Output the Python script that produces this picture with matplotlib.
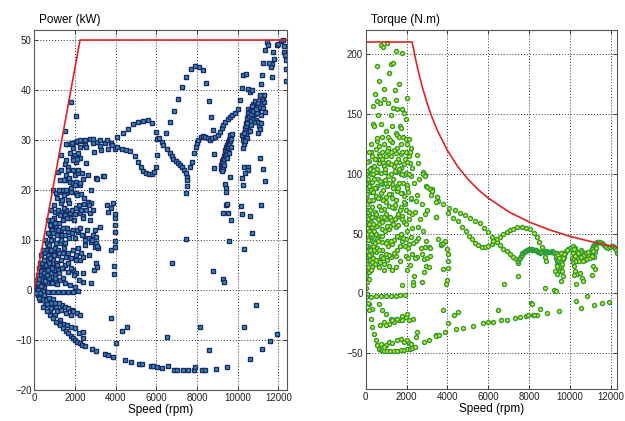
import numpy as np
import matplotlib.pyplot as plt

plt.rcParams['font.family'] = ['Liberation Sans', 'DejaVu Sans']

# ---------------- left panel: power (rpm, kW) ----------------
pw_limit_rpm = [0, 2250, 12440]
pw_limit_kw = [0, 50, 50]

pw_fan = [(1657, 29.3), (1870, 29.4), (2067, 29.7), (2313, 29.9), (2477, 29.1), (2886, 29.4),
          (3099, 29.7), (3214, 28.9), (3460, 29.5), (3788, 29.5), (1903, 28.4), (2231, 28.6),
          (2559, 28.7), (2935, 27.7), (3296, 28.1), (3624, 28.2), (3966, 28.3), (1329, 27.1),
          (1739, 27.5), (1985, 27.1), (2149, 27.4), (2231, 26.4), (2559, 25.5), (2034, 25.7),
          (1903, 26.4), (2116, 26.2), (1493, 25.3), (1657, 24.7), (1903, 24.1), (1165, 23.7),
          (1575, 23.1), (1985, 23.1), (2149, 23.4), (2395, 22.2), (3050, 22.4), (3378, 22.9),
          (1493, 22.1), (1739, 21.7), (1903, 21.4), (2067, 21.7), (2231, 21.1), (919, 20.0),
          (1083, 19.4), (1247, 19.7), (1411, 20.1), (1575, 19.4), (1821, 19.7), (2067, 19.4),
          (2313, 19.3), (2427, 17.3), (2641, 17.7), (2804, 17.4), (837, 16.1), (1001, 15.7),
          (1165, 15.4), (1329, 15.7), (1493, 15.1), (1739, 15.4), (1985, 15.3), (2231, 15.5),
          (2395, 14.9), (2723, 15.4), (673, 14.0), (837, 12.4), (1083, 12.7), (1329, 12.1),
          (1493, 12.4), (1657, 11.7), (1903, 12.1), (2149, 11.7), (2395, 11.0), (2641, 10.4),
          (2804, 9.7), (2886, 11.0), (3050, 10.7), (2477, 10.0), (2968, 8.7), (3132, 8.4),
          (592, 8.0), (755, 7.4), (919, 8.0), (1165, 7.0), (1411, 7.4), (1575, 6.7), (1821, 6.4),
          (2067, 7.0), (2231, 6.0), (2395, 6.6), (428, 4.7), (673, 4.4), (919, 4.7), (1165, 4.0),
          (1411, 4.4), (1657, 3.7), (1903, 4.0), (2067, 3.4), (2804, 1.4), (2395, 1.7), (264, 2.0),
          (510, 2.4), (755, 2.0), (1001, 1.7), (1247, 2.0), (1493, 1.4), (1739, 1.0), (1985, 0.7)]

pw_fan_dense = [(100, 1.0), (150, 2.0), (200, 3.0), (200, 0.8), (250, 4.5), (300, 1.5), (300, 5.5),
                (350, 3.0), (350, 7.0), (400, 1.0), (400, 4.0), (450, 8.0), (450, 2.5), (500, 5.0),
                (500, 0.5), (550, 10.0), (550, 3.5), (600, 6.0), (600, 1.5), (650, 9.0), (650, 4.0),
                (700, 2.5), (700, 7.0), (750, 11.0), (750, 5.0), (800, 3.5), (800, 8.0), (850, 12.0),
                (850, 1.5), (900, 6.0), (900, 10.0), (950, 4.0), (950, 14.5), (1000, 8.5), (1000, 3.0),
                (1050, 12.0), (1050, 5.5), (1100, 1.2), (1100, 11.0), (1150, 16.0), (1150, 8.0),
                (1200, 3.5), (1200, 13.5), (1250, 9.5), (1250, 22.0), (1300, 6.0), (1300, 17.5),
                (1350, 11.0), (1400, 2.5), (1400, 14.0), (1450, 8.5), (1450, 19.0), (1500, 5.0),
                (1500, 11.0), (1550, 16.0), (1550, 26.0), (1600, 12.5), (1650, 7.5), (1650, 18.0),
                (1700, 10.5), (1700, 22.5), (1750, 14.5), (1800, 4.5), (1800, 20.5), (1850, 11.5),
                (1850, 16.0), (1900, 8.0), (1900, 26.0), (1950, 14.0), (1950, 3.0), (2000, 21.0),
                (2000, 10.5), (2050, 16.5), (2050, 6.0), (2100, 19.0), (2100, 12.0), (2150, 24.0),
                (2150, 8.5), (2200, 17.0), (2200, 2.0), (2250, 21.5), (2250, 12.5), (2300, 7.5),
                (2300, 16.0), (2350, 23.5), (2350, 11.0), (2400, 14.5), (2400, 3.5), (2450, 18.5),
                (2500, 9.0), (2550, 16.0), (2600, 12.0), (2650, 23.0), (2700, 17.0), (2700, 7.0),
                (2750, 14.0), (2800, 20.0), (2850, 10.0), (2900, 16.0), (2950, 4.0), (3000, 12.0),
                (3050, 9.5), (3050, 5.5)]

pw_core = [(60, 0.5), (130, 0.3), (170, 1.5), (230, 2.2), (260, 0.6), (320, 3.8), (330, 0.8),
           (380, 5.5), (420, 2.0), (470, 6.0), (480, 3.5), (530, 7.5), (540, 1.8), (570, 5.0),
           (620, 9.5), (630, 3.0), (660, 7.0), (680, 11.5), (720, 5.5), (740, 9.0), (780, 13.0),
           (790, 6.5), (820, 10.0), (860, 4.5), (870, 14.0), (930, 11.5), (960, 7.0), (980, 17.0),
           (1020, 13.5), (1040, 2.5), (1080, 9.5), (1120, 18.5), (1140, 5.0), (1180, 12.0),
           (1220, 20.0), (1230, 7.5), (1280, 15.0), (1320, 10.0), (1330, 24.0), (1370, 4.5),
           (1380, 18.0), (1420, 12.5), (1470, 22.0), (1480, 16.5), (1520, 9.5), (1560, 20.0),
           (1620, 14.5), (1640, 24.0), (1680, 5.5), (1720, 17.5)]

pw_regen = [(182, 0.0), (428, -0.1), (673, -0.3), (919, -0.3), (1165, -0.4), (1411, -0.3),
            (1657, -0.4), (1903, -0.3), (2149, -0.1), (346, -1.3), (592, -2.0), (837, -2.6),
            (1083, -3.3), (1329, -4.0), (1575, -4.6), (1821, -5.0), (264, -2.0), (510, -3.0),
            (755, -4.0), (1001, -5.0), (1247, -6.0), (1493, -7.0), (1347, -2.9), (1510, -3.3),
            (1673, -3.6), (1839, -3.9), (1918, -4.1), (2085, -4.6), (2250, -4.9), (1200, -6.5),
            (1400, -6.8), (1600, -7.0), (1800, -7.3), (2000, -7.5), (2213, -8.6), (2410, -8.4),
            (2410, -9.5), (100, -0.5), (200, -1.0), (300, -0.5), (400, -1.8), (500, -1.0),
            (600, -2.8), (700, -1.5), (800, -3.5), (900, -1.8), (1000, -2.5), (1100, -4.2),
            (1200, -2.5), (100, -0.6), (250, -1.5), (428, -3.3), (600, -4.1), (755, -5.0),
            (900, -5.6), (1083, -6.3), (1250, -7.0), (1411, -7.6), (1550, -8.1), (1657, -8.6),
            (1800, -9.1), (1903, -9.6), (2000, -9.9), (2100, -10.3), (2248, -10.5), (2350, -10.9),
            (2493, -11.1)]

pw_brake_arc = [(2821, -11.7), (3034, -12.1), (3477, -12.8), (3640, -13.0), (3885, -13.3),
                (4461, -13.9), (4741, -14.3), (5150, -14.8), (5300, -14.8), (5750, -15.2),
                (5850, -15.2), (6020, -15.4), (6266, -15.6), (6590, -15.1), (6856, -15.9),
                (7020, -15.9), (7298, -15.9), (7574, -15.9), (7854, -15.9), (7918, -15.3),
                (8233, -15.9), (8397, -15.9), (8936, -15.7), (9492, -15.4)]

pw_sparse = [(1803, 37.7), (2032, 34.9), (1508, 31.9), (3065, 22.2), (3425, 22.8), (3557, 17.0),
             (3770, 16.4), (3884, 17.4), (3639, 15.6), (3950, 15.3), (3980, 14.4), (3950, 13.0),
             (3980, 11.7), (3966, 9.9), (3950, 8.7), (3930, 4.8), (3930, 3.3), (3770, 8.0),
             (3229, 12.6), (3098, 8.8), (3065, 4.6), (3770, -5.5), (4294, -8.1), (4540, -7.3),
             (3999, -10.5), (6527, -9.4), (8164, -7.3), (8577, -11.9), (10328, -7.3), (10593, -13.7),
             (10904, -3.0), (11213, -11.7), (11607, -10.2), (11951, -8.8), (6772, 5.4), (8803, 3.8),
             (9280, 2.3), (9329, 1.7), (7461, 10.3), (9560, 9.9), (10313, 8.3), (9427, 17.0),
             (9296, 15.5), (9510, 15.5), (9690, 14.1), (10180, 16.9), (10215, 15.3), (10624, 14.9),
             (10707, 11.5), (11150, 17.1), (9375, 21.2), (9424, 20.5), (9424, 19.6), (9457, 17.3),
             (9621, 22.6), (10313, 24.7), (10526, 24.7), (10493, 24.0), (11100, 26.4), (11264, 24.3),
             (10277, 21.0), (10359, 23.4), (10230, 22.5), (11342, 21.8)]

pw_arcs = [(1559, 29.2), (1839, 29.4), (2085, 29.9), (2248, 30.1), (2493, 30.1), (2739, 30.3),
           (2903, 30.3), (3231, 30.1), (3561, 30.1), (3806, 29.1), (4082, 30.7), (4347, 31.5),
           (4593, 32.3), (4869, 33.2), (5115, 33.7), (5360, 33.9), (5577, 34.1), (5803, 33.4),
           (6019, 30.3), (4082, 28.7), (4298, 28.3), (4525, 28.1), (4707, 27.9), (4952, 26.9),
           (5115, 25.7), (5247, 24.7), (5360, 23.9), (5493, 23.4), (5640, 23.2), (5774, 23.2),
           (5902, 23.7), (5985, 24.7), (6034, 27.1), (5985, 31.7), (6149, 30.4), (6264, 29.6),
           (6345, 29.1), (6510, 28.3), (6659, 27.5), (6757, 26.9), (6836, 26.3), (6954, 25.9),
           (7053, 25.5), (7166, 25.0), (7250, 24.7), (7377, 24.1), (7446, 23.5), (7495, 22.7),
           (7495, 22.1), (7510, 20.9), (7480, 19.4), (6458, 31.5), (6674, 33.7), (6854, 35.9),
           (7050, 38.3), (7247, 40.6), (7460, 42.7), (7690, 44.3), (7903, 44.9), (8083, 44.6),
           (8280, 44.1), (8444, 41.5), (8588, 37.9), (8670, 34.7), (8769, 32.1), (8851, 27.3),
           (8851, 24.4), (7657, 24.7), (7772, 25.7), (7870, 27.4), (7936, 28.6), (8018, 29.4),
           (8067, 30.1), (8181, 30.6), (8280, 30.9), (8395, 30.7), (8526, 30.4), (8640, 30.1),
           (8755, 30.4), (8886, 30.7), (9017, 31.1), (9132, 31.7), (9214, 32.4), (9296, 33.0),
           (9378, 33.7), (9509, 34.2), (9624, 34.6), (9739, 35.1), (9870, 35.5), (10033, 36.2)]

pw_cluster = [(9180, 24.2), (9200, 25.0), (9220, 24.6), (9240, 25.8), (9260, 25.2), (9280, 26.3),
              (9300, 25.6), (9320, 26.9), (9340, 26.2), (9360, 27.4), (9380, 26.8), (9400, 28.0),
              (9420, 27.3), (9440, 28.6), (9460, 27.9), (9480, 29.1), (9500, 28.4), (9520, 29.6),
              (9540, 28.8), (9560, 30.1), (9580, 29.3), (9600, 30.6), (9620, 29.8), (9640, 31.0),
              (9660, 30.3), (9300, 24.3), (9350, 25.1), (9450, 26.4), (9550, 27.5), (9650, 28.6),
              (9250, 23.8), (9700, 31.3)]

pw_high = [(10526, 36.3), (10608, 35.8), (10690, 36.7), (10772, 37.3), (10854, 37.8), (10936, 37.0),
           (11018, 37.5), (11100, 36.7), (11182, 37.3), (11264, 38.0), (11313, 37.6), (11346, 35.6),
           (11018, 35.6), (10854, 35.3), (10772, 34.6), (10887, 34.0), (10985, 33.7), (11051, 32.8),
           (11100, 32.3), (10821, 33.7), (10690, 34.3), (10608, 33.8), (10526, 35.0), (10526, 32.3),
           (10444, 31.7), (10395, 31.3), (10329, 30.4), (10280, 30.0), (10329, 29.3), (10444, 30.4),
           (10198, 31.0), (10250, 28.5), (10300, 31.5), (10350, 32.5), (10400, 33.5), (10450, 34.5),
           (10500, 35.5), (10350, 29.8), (10420, 32.8), (10480, 33.5), (10560, 34.8), (10650, 35.2),
           (10700, 36.9), (10750, 35.9), (10950, 35.5), (11150, 35.0), (11200, 38.3), (11300, 39.0),
           (11080, 38.7), (10900, 36.3), (10600, 31.8), (10650, 33.0), (11000, 31.5), (11150, 33.5),
           (11250, 36.5), (11427, 49.7), (11510, 49.1), (11346, 48.0), (11919, 49.0), (12001, 49.3),
           (12116, 49.8), (12247, 50.0), (12280, 48.9), (12296, 47.7), (12329, 47.1), (12362, 46.0),
           (12378, 44.3), (12378, 41.8), (11755, 47.7), (11804, 46.3), (11706, 45.3), (11624, 44.7),
           (11673, 42.7), (11264, 45.5), (11542, 45.5), (11182, 43.1), (11133, 41.3), (10280, 43.1),
           (10395, 43.3), (10198, 40.5), (10493, 40.3), (10608, 39.7), (10723, 40.0), (11100, 39.1),
           (10116, 38.1)]

# ---------------- right panel: torque (rpm, N.m) ----------------
tq_limit_rpm = [0, 2270, 2500, 2750, 3000, 3250, 3500, 4000, 4500, 5000, 5500, 6000, 7000,
                8000, 9000, 10000, 11000, 12000, 12310]
tq_limit_nm = [210, 210, 191, 173.6, 159.2, 146.9, 136.4, 119.4, 106.1, 95.5, 86.8, 79.6, 68.2,
               59.7, 53.1, 47.7, 43.4, 39.8, 38.8]

tq_fan = [(733, 207.5), (847, 205.8), (1059, 208.9), (1499, 202.5), (1793, 200.5), (537, 190.0),
          (1222, 191.9), (1352, 192.8), (1140, 183.9), (651, 177.5), (1630, 174.7), (896, 171.1),
          (1418, 169.7), (455, 166.4), (570, 160.8), (684, 158.9), (896, 162.8), (1091, 159.4),
          (357, 156.7), (1320, 155.3), (1548, 153.9), (1793, 154.4), (1499, 161.4), (2037, 163.6),
          (1874, 150.5), (1254, 149.2), (618, 149.2), (1956, 145.5), (357, 141.9), (733, 141.4),
          (406, 140.0), (1303, 140.0), (1662, 140.0), (1744, 138.1), (977, 135.8), (1466, 134.4),
          (1548, 132.5), (1630, 130.8), (243, 124.7), (570, 127.5), (814, 130.3), (1108, 130.3),
          (1842, 130.3), (1956, 128.9), (2120, 129.4), (243, 117.8), (488, 120.5), (651, 123.3),
          (896, 124.7), (1091, 121.9), (1303, 126.1), (1515, 121.9), (1711, 124.7), (2037, 124.7),
          (2200, 121.9), (325, 115.0), (651, 116.4), (814, 117.8), (1059, 118.6), (1222, 115.0),
          (1466, 116.9), (1711, 116.4), (1956, 117.8), (2120, 115.0), (2494, 115.8), (162, 110.3),
          (406, 106.7), (651, 108.9), (896, 106.7), (1140, 108.1), (1385, 106.7), (1630, 109.4),
          (1874, 108.1), (2168, 108.9), (2559, 108.6), (80, 102.5), (243, 99.7), (488, 101.7),
          (733, 100.3), (928, 101.1), (1222, 99.7), (1466, 101.1), (1711, 99.7), (1956, 100.3),
          (2200, 98.3), (2820, 101.1), (2885, 99.1), (80, 91.4), (325, 92.8), (570, 90.0),
          (814, 91.4), (1059, 89.4), (1303, 91.4), (1548, 90.0), (1842, 92.2), (2037, 90.8),
          (2967, 90.0), (3261, 87.2), (80, 83.0), (243, 84.4), (488, 81.7), (733, 83.6), (977, 80.8),
          (1222, 83.0), (1548, 85.3), (1874, 81.7), (2233, 78.9), (2445, 77.5), (3505, 80.8),
          (3538, 77.5), (80, 74.7), (325, 71.9), (651, 73.3), (896, 70.6), (1140, 73.3),
          (1385, 71.4), (1711, 72.5), (1956, 69.7), (2282, 66.4), (3016, 69.7), (162, 66.4),
          (406, 63.6), (733, 64.2), (977, 62.2), (1222, 61.4), (1548, 63.6), (1793, 65.0),
          (2120, 62.2), (2559, 55.8), (3424, 63.6), (80, 58.0), (325, 55.3), (570, 56.6),
          (814, 53.9), (1140, 53.9), (1466, 55.8), (1630, 46.9), (1793, 44.1), (1956, 45.5),
          (2120, 41.4), (2200, 46.9), (2445, 44.1), (2902, 39.1), (3098, 39.1), (3701, 40.8),
          (80, 46.9), (325, 44.1), (570, 45.5), (814, 42.8), (1059, 44.1), (1303, 41.4), (80, 35.8),
          (276, 33.0), (488, 34.4), (733, 31.6), (977, 33.0), (1222, 30.3), (1466, 31.6),
          (1956, 31.6), (2282, 33.0), (2527, 30.3), (2853, 28.9), (2934, 23.3), (3098, 22.0),
          (2771, 33.0), (80, 24.7), (325, 22.0), (651, 22.0), (896, 24.7), (1140, 23.3),
          (1466, 22.0), (2037, 19.2), (2363, 15.0), (2331, 9.4), (2315, 6.7), (2771, 9.4),
          (1760, 6.7)]

tq_fan_dense = [(40, 95), (40, 70), (40, 50), (40, 30), (40, 20), (120, 88), (120, 62), (120, 40),
                (120, 28), (160, 52), (160, 18), (200, 77), (200, 45), (200, 28), (250, 60), (250, 38),
                (280, 105), (300, 88), (300, 48), (300, 26), (350, 78), (380, 58), (400, 36), (420, 96),
                (450, 68), (450, 25), (500, 112), (500, 50), (520, 88), (550, 130), (550, 38), (600, 96),
                (600, 62), (620, 28), (680, 80), (700, 115), (700, 48), (750, 92), (780, 36), (800, 60),
                (850, 110), (850, 78), (880, 20), (950, 95), (950, 52), (1000, 115), (1000, 66),
                (1020, 28), (1100, 98), (1100, 40), (1150, 83), (1180, 128), (1200, 56), (1250, 108),
                (1280, 72), (1300, 20), (1350, 88), (1380, 45), (1400, 120), (1420, 62), (1450, 102),
                (1500, 78), (1550, 36), (1580, 112), (1600, 57), (1650, 92), (1680, 70), (1700, 27),
                (1720, 105), (1750, 50), (1780, 84), (1800, 118), (1850, 60), (1880, 99), (1900, 40),
                (1920, 75), (2000, 110), (2000, 52), (2050, 85), (2080, 38), (2100, 100), (2120, 68),
                (2150, 24), (2180, 118), (2200, 80), (2250, 55), (2280, 105), (2300, 42), (2350, 92),
                (2400, 68), (2420, 30), (2500, 82), (2550, 46), (2600, 96), (2650, 62), (2700, 38),
                (2750, 75), (2800, 52), (2850, 18), (2900, 66), (2950, 44), (3000, 30)]

tq_core = [(20, 5), (20, 15), (20, 40), (20, 60), (20, 80), (20, 100), (60, 10), (60, 55), (60, 88),
           (60, 110), (100, 22), (100, 45), (100, 68), (100, 96), (140, 32), (140, 78), (140, 118),
           (180, 12), (180, 58), (180, 90), (220, 36), (220, 70), (220, 104), (260, 20), (260, 50),
           (260, 86), (300, 64), (340, 40), (340, 100), (370, 30), (380, 85), (430, 52), (440, 112),
           (470, 42), (470, 88), (510, 28), (520, 66), (560, 104), (580, 44), (620, 80), (640, 36),
           (660, 58), (700, 94), (720, 26), (760, 70), (780, 112), (820, 48), (840, 86), (870, 30),
           (900, 64), (940, 104), (980, 42), (1010, 76), (1060, 56), (1080, 110), (1120, 32),
           (1160, 92), (1190, 64), (1230, 44), (1260, 118), (1300, 80), (1330, 58), (1360, 96),
           (1400, 34), (1440, 74), (1480, 110), (1520, 48), (1560, 88), (1600, 66), (1640, 104),
           (1680, 40), (1720, 84), (1760, 62), (1800, 100), (1840, 46), (1860, 76), (1900, 112),
           (1960, 58), (2000, 88), (2060, 30)]

tq_regen = [(80, -0.3), (243, -3.1), (488, -1.7), (733, -1.7), (977, -1.7), (1222, -1.7),
            (1466, -1.7), (1678, -0.9), (1900, -1.5), (162, -8.6), (325, -12.8), (651, -8.6),
            (814, -14.2), (977, -17.0), (1222, -21.1), (1466, -21.1), (1711, -21.1), (1793, -18.4),
            (1956, -19.7), (2037, -17.0), (1630, -22.5), (1385, -23.9), (1140, -25.3), (900, -24.0),
            (700, -26.0), (1000, -26.5), (1300, -22.0), (1550, -21.5), (1800, -22.0), (2100, -22.5),
            (2300, -21.0), (20, -3.0), (100, -8.0), (162, -14.2), (243, -21.1), (325, -28.1),
            (406, -33.6), (488, -39.2), (570, -43.4), (651, -46.1), (733, -47.5), (814, -47.5),
            (900, -48.0), (1059, -48.1), (1200, -48.4), (1385, -48.4), (1550, -48.0), (1711, -47.5),
            (1850, -47.0), (2037, -46.7), (2150, -46.0), (2282, -45.3), (2400, -44.5), (733, -42.0),
            (1140, -40.6), (1300, -41.0), (1548, -39.2), (1711, -37.8), (1874, -40.6), (2000, -39.0),
            (2100, -41.0), (2200, -42.5), (1000, -43.0), (900, -44.5), (2445, -36.4), (2494, -32.2),
            (2853, -40.6), (3098, -39.2), (3424, -35.0)]

tq_lower_line = [(3440, -35.3), (3586, -34.5), (3880, -32.5), (4043, -24.8), (4418, -30.0),
                 (4744, -28.9), (5234, -27.0), (5756, -24.8), (6000, -24.2), (6245, -23.6),
                 (6603, -22.0), (6897, -22.0), (7305, -20.6), (7549, -20.0), (7843, -19.2),
                 (7957, -18.1), (8202, -18.1), (8398, -17.8), (8886, -16.4), (9457, -15.0),
                 (10534, -11.7), (11185, -9.7), (11545, -8.1), (11903, -6.7), (8234, -18.1),
                 (8087, -8.1), (8527, -13.1), (3766, -13.6), (4320, -17.8), (4532, -15.3),
                 (6489, -13.6), (8153, -8.4), (10843, -2.5), (10289, -6.1)]

tq_arcs = [(2800, 100.0), (2900, 98.0), (3000, 89.0), (3146, 87.5), (3228, 85.5), (3195, 81.9),
           (3505, 80.5), (3798, 74.4), (4092, 71.6), (4369, 69.4), (4614, 67.5), (4859, 65.3),
           (5103, 63.3), (5348, 60.5), (5593, 58.6), (5788, 55.0), (6000, 51.4), (6163, 47.5),
           (6408, 43.0), (6571, 40.2), (6734, 37.5), (6897, 35.5), (7060, 32.7), (7224, 30.8),
           (7354, 28.6), (7436, 25.8), (3440, 76.4), (4043, 67.5), (4288, 63.3), (4532, 60.5),
           (4728, 55.8), (4907, 52.2), (5071, 48.0), (5185, 45.3), (5348, 42.5), (5511, 40.5),
           (5674, 39.1), (5837, 38.8), (6000, 39.7), (6163, 41.6), (6245, 43.9), (6408, 45.8),
           (6571, 47.5), (6734, 49.4), (6897, 51.4), (7060, 52.8), (7224, 54.1), (7419, 55.2),
           (7631, 55.2), (7843, 54.7), (8039, 53.6), (8234, 50.8), (8397, 47.5), (8495, 43.4),
           (8609, 38.9), (8658, 35.0), (8772, 30.5), (8821, 27.2), (3521, 45.3), (3684, 41.1),
           (3798, 42.5), (3880, 43.9), (3961, 36.9), (4043, 32.8), (4043, 27.2), (4043, 21.6),
           (3798, 20.8), (3961, 11.4), (3929, 7.8), (3440, 63.9), (7436, 14.9), (6767, 7.8),
           (3146, 37.7), (3146, 31.4)]

tq_wavy = [(7470, 27.5), (7500, 29.0), (7549, 30.0), (7590, 31.3), (7630, 32.5), (7670, 33.4),
           (7712, 34.1), (7760, 34.9), (7800, 35.5), (7840, 35.8), (7876, 36.1), (7910, 36.4),
           (7950, 36.6), (7995, 36.8), (8039, 36.9), (8080, 36.9), (8120, 36.8), (8160, 36.7),
           (8200, 36.6), (8240, 36.5), (8284, 36.4), (8320, 36.1), (8360, 35.8), (8400, 35.3),
           (8447, 34.7), (8490, 34.3), (8530, 34.2), (8570, 34.3), (8610, 34.5), (8650, 34.9),
           (8700, 35.2), (8740, 35.4), (8780, 35.5), (8820, 35.3), (8860, 35.0), (8900, 34.8),
           (8940, 34.6), (8980, 34.7), (9020, 34.8), (9060, 35.0), (9100, 35.2), (9140, 35.0),
           (9180, 34.6), (9220, 34.0), (9260, 33.5), (9900, 37.0), (9980, 38.0), (10077, 36.9),
           (10158, 39.7), (10240, 38.3), (11000, 35.5), (11050, 37.0), (11100, 38.5), (11137, 39.7),
           (11180, 40.5), (11218, 41.1), (11260, 41.8), (11300, 42.5), (11340, 42.8), (11381, 43.0),
           (11420, 42.8), (11480, 42.6), (11545, 42.5), (11620, 41.5), (11700, 40.0), (11780, 39.2),
           (11871, 38.3), (11950, 39.0), (12034, 39.7), (12110, 39.5), (12197, 38.3), (12260, 36.5),
           (12311, 34.2)]

tq_cluster = [(9343, 32.8), (9424, 30.0), (9506, 28.6), (9588, 31.4), (9669, 32.8), (9750, 34.2),
              (9343, 27.2), (9424, 24.4), (9538, 23.0), (9669, 28.6), (9473, 25.8), (9300, 30.0),
              (9380, 34.0), (9460, 33.0), (9550, 26.0), (9620, 25.0), (9700, 30.5), (9780, 35.5),
              (9830, 36.5), (9400, 28.0), (9500, 31.0), (9600, 34.0), (9350, 24.0), (9450, 22.5),
              (9320, 31.5), (9400, 32.5), (9480, 29.5), (9560, 33.5), (9640, 30.0), (9720, 33.0),
              (10403, 31.4), (10484, 28.6), (10566, 32.8), (10647, 30.0), (10729, 28.0),
              (10811, 31.4), (10941, 34.2), (11055, 36.9), (10100, 30.0), (10150, 26.0),
              (10200, 28.5), (10250, 33.0), (10300, 35.5), (10350, 30.0), (10450, 34.5),
              (10520, 36.0), (10600, 35.0), (10680, 33.5), (10760, 30.5), (10850, 29.0),
              (10900, 32.0), (11000, 35.0), (11100, 33.0), (11150, 30.5), (11200, 35.0),
              (11250, 38.0), (10120, 34.0), (10180, 37.0), (10220, 31.0), (10280, 27.5),
              (10380, 33.5), (10430, 27.5), (10540, 30.5), (10620, 27.0), (10700, 32.0),
              (10780, 33.5), (10880, 34.5), (10960, 30.0), (11050, 31.5), (11120, 35.5)]

tq_sparse = [(10207, 23.0), (10240, 18.9), (10321, 16.1), (10207, 15.3), (10484, 17.5),
             (10566, 13.3), (10647, 10.5), (10272, 8.3), (11055, 15.3), (11218, 20.8),
             (11104, 23.0), (9261, 18.9), (9375, 16.1), (9506, 18.9), (9620, 18.9), (9538, 10.5),
             (9375, 23.0), (9636, 14.2), (8772, 4.4), (9229, 3.0), (9310, 1.9)]


def xy(*groups):
    pts = np.array([p for g in groups for p in g], dtype=float)
    return pts[:, 0], pts[:, 1]


def style_axes(ax, title):
    ax.set_axisbelow(True)
    ax.grid(True, linestyle=(0, (1, 2)), color='#333333', linewidth=0.7)
    ax.tick_params(direction='in', length=3, width=0.6, top=True, right=True,
                   labelsize=7, pad=2, colors='#222222')
    for sp in ax.spines.values():
        sp.set_color('#555555')
        sp.set_linewidth(0.8)
    ax.set_xticks(np.arange(0, 12001, 2000))
    ax.set_xlabel('Speed (rpm)', fontsize=8.5, labelpad=1)
    ax.text(0.02, 1.012, title, transform=ax.transAxes, fontsize=8.5,
            ha='left', va='bottom')


fig = plt.figure(figsize=(6.25, 4.21), dpi=100)
fig.patch.set_facecolor('white')

# power panel
ax1 = fig.add_axes([0.0549, 0.0736, 0.4048, 0.8551])
px, py = xy(pw_fan, pw_fan_dense, pw_core, pw_regen, pw_brake_arc, pw_sparse, pw_arcs,
            pw_cluster, pw_high)
ax1.plot(px, py, linestyle='none', marker='s', markersize=2.8,
         markerfacecolor='#2f93b3', markeredgecolor='#1c2868', markeredgewidth=1.0)
ax1.plot(pw_limit_rpm, pw_limit_kw, color='#e02424', linewidth=1.2)
ax1.set_xlim(0, 12440)
ax1.set_ylim(-20, 52)
ax1.set_yticks(np.arange(-20, 51, 10))
style_axes(ax1, 'Power (kW)')

# torque panel
ax2 = fig.add_axes([0.5851, 0.0753, 0.4026, 0.8534])
tx, ty = xy(tq_fan, tq_fan_dense, tq_core, tq_regen, tq_lower_line, tq_arcs, tq_wavy,
            tq_cluster, tq_sparse)
ax2.plot(tx, ty, linestyle='none', marker='o', markersize=2.9,
         markerfacecolor='#e8e812', markeredgecolor='#2a9c3a', markeredgewidth=1.0)
ax2.plot(tq_limit_rpm, tq_limit_nm, color='#e02424', linewidth=1.2)
ax2.set_xlim(0, 12310)
ax2.set_ylim(-80, 220)
ax2.set_yticks(np.arange(-50, 201, 50))
style_axes(ax2, 'Torque (N.m)')

fig.savefig('out.png', dpi=100, facecolor='white')
